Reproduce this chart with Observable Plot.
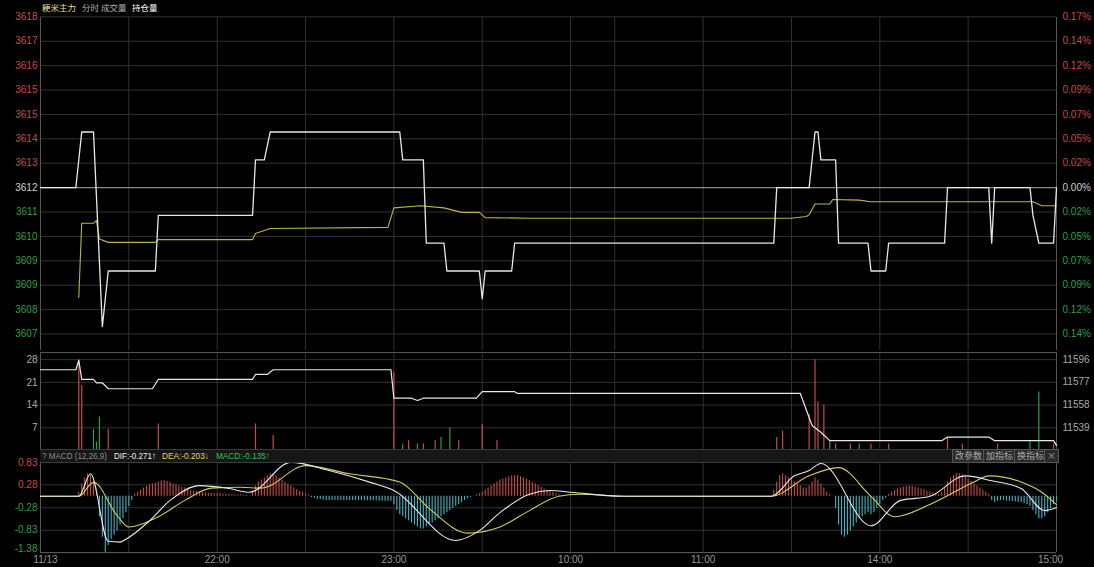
<!DOCTYPE html>
<html><head><meta charset="utf-8">
<script src="https://cdn.jsdelivr.net/npm/d3@7"></script>
<script src="https://cdn.jsdelivr.net/npm/@observablehq/plot@0.6"></script>
<style>
html,body{margin:0;padding:0;background:#000;}
#wrap{position:relative;width:1094px;height:567px;background:#000;overflow:hidden;font-family:"Liberation Sans",Arial,sans-serif;}
#wrap svg{position:absolute;left:0;}
.hdr{position:absolute;font-family:"Noto Sans CJK SC","Liberation Sans",sans-serif;white-space:nowrap;transform-origin:0 50%;}
.btn{position:absolute;top:449px;height:12px;line-height:12px;font-size:9px;color:#aaa;background:#2a2a2a;border:1px solid #555;padding:0 2px;font-family:"Noto Sans CJK SC",sans-serif;}
</style></head><body><div id="wrap"></div>
<script>
// ---------- data ----------
const sessionMinutes = 345;
const xTickMinutes = [0, 60, 120, 180, 225, 285, 345];
const xTickLabels = ["11/13", "22:00", "23:00", "10:00", "11:00", "14:00", "15:00"];
const gridMinutes = [0, 30, 60, 90, 120, 150, 180, 195, 225, 255, 285, 315, 345];

const prevSettle = 3612;
const priceStep = 0.8777;
const priceTickLabels = ["3618","3617","3616","3615","3615","3614","3613","3612","3611","3610","3609","3609","3608","3607"];
const pctTickLabels = ["0.17%","0.14%","0.12%","0.09%","0.07%","0.05%","0.02%","0.00%","0.02%","0.05%","0.07%","0.09%","0.12%","0.14%"];

const priceMin = [0,12,14,18,21,23,39,40,72,73,76,78,122,123,130,131,137,138,149,150,151,160,161,249,250,261,263,264,265,270,271,281,282,287,288,307,308,322,323,324,336,337,339,344,345];
const priceVal = [3612,3612,3614,3614,3607,3609,3609,3611,3611,3613,3613,3614,3614,3613,3613,3610,3610,3609,3609,3608,3609,3609,3610,3610,3612,3612,3614,3614,3613,3613,3610,3610,3609,3609,3610,3610,3612,3612,3610,3612,3612,3611,3610,3610,3612];

const avgMin = [13,14,18,19,20,23,39,40,72,73,78,118,120,129,137,143,149,151,166,255,260,261,263,268,269,278,282,337,340,345];
const avgVal = [3608.05,3610.72,3610.72,3610.81,3610.15,3610.03,3610.03,3610.13,3610.13,3610.35,3610.53,3610.57,3611.27,3611.35,3611.27,3611.11,3611.11,3610.92,3610.90,3610.90,3610.96,3611.02,3611.41,3611.41,3611.57,3611.55,3611.49,3611.49,3611.35,3611.35];

const volTicks = [7, 14, 21, 28];
const oiTicks = [11539, 11558, 11577, 11596];
const volMin = [13,14,18,19,20,23,40,73,79,120,123,125,128,130,134,136,139,142,150,155,250,252,261,263,264,266,268,270,275,278,282,288,308,313,325,336,339,344];
const volVal = [28,20,6.5,2.6,10.3,6.5,8.2,8.2,4.6,24,2,3,2,2,3,4,7,3,8,3,4,6,11,28,15,14,3,2,2,2,2,2,4,2,2,3,18,2];
const volUp  = [1,1,0,0,0,1,1,1,1,1,0,1,0,1,1,0,0,1,1,1,1,1,1,1,1,1,0,1,1,0,1,1,1,1,1,0,0,1];

const oiMin = [0,12,13,14,18,19,21,23,38,40,72,73,77,79,119,120,126,128,130,148,150,161,162,258,262,265,268,306,308,322,324,344,345];
const oiVal = [11587.3,11587.3,11595.1,11579.2,11579.2,11576.4,11576.4,11571.4,11571.4,11579.2,11579.2,11583.4,11583.4,11587.3,11587.3,11563.5,11563.5,11561.6,11563.5,11563.5,11569,11569,11567.5,11567.5,11540.7,11535,11528,11528,11531,11531,11528,11528,11524];

const macdTicks = [0.83, 0.28, -0.28, -0.83, -1.38];
const difMin = [0,13,17,23,27,29,37,44,54,64,71,85,98,112,120,141,149,156,166,173,180,197,248,256,261,265,282,292,302,314,323,333,341,345];
const difVal = [0,0,0.55,-1.1,-1.12,-1.05,-0.6,-0.1,0.26,0.19,0.1,0.83,0.63,0.34,0.14,-1.08,-0.84,-0.4,0.05,0.14,0.1,0,0,0.5,0.63,0.8,-0.72,-0.1,0,0.5,0.38,0.19,-0.35,-0.271];
const deaMin = [0,13,18,26,30,40,49,58,68,75,90,105,122,132,145,156,166,176,183,200,248,261,271,282,290,302,317,322,333,340,345];
const deaVal = [0,0,0.34,-0.47,-0.75,-0.5,-0.1,0.2,0.22,0.2,0.75,0.55,0.35,-0.3,-0.9,-0.75,-0.35,0,0.05,0,0,0.5,0.7,0,-0.5,-0.2,0.35,0.5,0.35,0.1,-0.203];

const histSegments = [
  {from: 13, v: [0.1,0.3,0.45,0.55,0.5,0.35,0.1]},
  {from: 20, v: [-0.5,-1.0,-1.38,-1.2,-1.05,-0.95,-0.85,-0.7,-0.55,-0.4,-0.25,-0.1]},
  {from: 32, v: [0.05,0.1,0.15,0.2,0.25,0.28,0.3,0.32,0.35,0.38,0.38,0.36,0.34,0.3,0.28,0.25,0.22,0.2,0.18,0.15,0.13,0.12,0.1,0.09,0.08,0.07,0.07,0.06,0.06,0.06,0.05,0.05,0.05,0.04,0.04,0.04,0.03,0.03,0.03]},
  {from: 72, v: [0.1,0.25,0.35,0.4,0.45,0.5,0.55,0.55,0.5,0.45,0.4,0.35,0.3,0.25,0.2,0.16,0.12,0.09,0.06,0.03]},
  {from: 92, v: [-0.03,-0.05,-0.07,-0.08,-0.09,-0.1,-0.1,-0.1,-0.1,-0.1,-0.1,-0.1,-0.1,-0.1,-0.1,-0.1,-0.1,-0.1,-0.11,-0.11,-0.11,-0.11,-0.11,-0.12,-0.12,-0.12,-0.12,-0.12]},
  {from: 120, v: [-0.2,-0.35,-0.45,-0.5,-0.55,-0.6,-0.65,-0.7,-0.75,-0.8,-0.8,-0.75,-0.7,-0.65,-0.6,-0.55,-0.5,-0.45,-0.4,-0.35,-0.3,-0.25,-0.2,-0.15,-0.1,-0.06,-0.03]},
  {from: 148, v: [0.03,0.06,0.1,0.15,0.2,0.25,0.3,0.35,0.4,0.42,0.45,0.47,0.5,0.5,0.5,0.48,0.45,0.42,0.38,0.34,0.3,0.26,0.22,0.18,0.15,0.12,0.09,0.06,0.04,0.02]},
  {from: 249, v: [0.15,0.35,0.5,0.55,0.5,0.45,0.4,0.35,0.3,0.25,0.2,0.2,0.25,0.35,0.45,0.4,0.3,0.2,0.1,0.05]},
  {from: 270, v: [-0.3,-0.7,-0.95,-1.0,-0.95,-0.85,-0.75,-0.65,-0.55,-0.5,-0.45,-0.4,-0.45,-0.4,-0.3,-0.2,-0.1,-0.05]},
  {from: 288, v: [0.05,0.1,0.14,0.18,0.2,0.22,0.24,0.25,0.24,0.22,0.2,0.18,0.16,0.13,0.1,0.08,0.06,0.05]},
  {from: 306, v: [0.1,0.2,0.35,0.45,0.5,0.55,0.55,0.52,0.48,0.42,0.36,0.3,0.25,0.2,0.15,0.1,0.05]},
  {from: 323, v: [-0.1,-0.15,-0.12,-0.1,-0.1,-0.12,-0.12,-0.13,-0.14,-0.15,-0.15,-0.18,-0.2,-0.25,-0.35,-0.45,-0.55,-0.55,-0.5,-0.4,-0.3,-0.2,-0.14]}
];

// ---------- helpers ----------
const W = 1094, ML = 40, MR = 38;
const GRID = "#323232", AXIS = "#555";
const RED = "#c84a4a", GREEN = "#2f9e44", CYAN = "#3fb4c4";
const zip = (a, b) => a.map((m, i) => ({m, v: b[i]}));
const wrap = document.getElementById("wrap");
function place(svg, top) { svg.style.top = top + "px"; wrap.appendChild(svg); }
const baseStyle = {background: "transparent", color: "#999", fontSize: "10px", fontFamily: "Liberation Sans, Arial, sans-serif", overflow: "visible"};

// ---------- top price panel ----------
const priceTicks = priceTickLabels.map((t, i) => ({v: prevSettle + (7 - i) * priceStep, label: t, pct: pctTickLabels[i], k: 7 - i}));
const tickColor = k => k > 0 ? RED : k < 0 ? GREEN : "#cfcfcf";
const topPlot = Plot.plot({
  width: W, height: 352, marginLeft: ML, marginRight: MR, marginTop: 17, marginBottom: 2,
  style: baseStyle,
  x: {domain: [0, sessionMinutes], axis: null},
  y: {domain: [prevSettle - 5.86, prevSettle + 6.12], axis: null},
  color: {type: "identity"},
  marks: [
    Plot.ruleY(priceTicks.filter(d => d.k !== 0), {y: "v", stroke: GRID}),
    Plot.ruleX(gridMinutes, {stroke: GRID}),
    Plot.ruleY([prevSettle], {stroke: "#8a8a8a", strokeWidth: 1.2}),
    Plot.ruleX([0, sessionMinutes], {stroke: AXIS}),
    Plot.text(priceTicks, {y: "v", text: "label", frameAnchor: "left", textAnchor: "end", dx: -3, fill: d => tickColor(d.k), fontSize: 10}),
    Plot.text(priceTicks, {y: "v", text: "pct", frameAnchor: "right", textAnchor: "start", dx: 6, fill: d => tickColor(d.k), fontSize: 10}),
    Plot.line(zip(avgMin, avgVal), {x: "m", y: "v", stroke: "#bdb53a", strokeWidth: 1.1}),
    Plot.line(zip(priceMin, priceVal), {x: "m", y: "v", stroke: "#e8e8e8", strokeWidth: 1.3})
  ]
});
place(topPlot, 0);

// ---------- volume / open interest panel ----------
const volData = volMin.map((m, i) => ({m, v: volVal[i], up: volUp[i]}));
const volPlot = Plot.plot({
  width: W, height: 100, marginLeft: ML, marginRight: MR, marginTop: 2, marginBottom: 0,
  style: baseStyle,
  x: {domain: [0, sessionMinutes], axis: null},
  y: {domain: [0, 30.2], axis: null},
  color: {type: "identity"},
  marks: [
    Plot.ruleY(volTicks, {stroke: GRID}),
    Plot.ruleX(gridMinutes, {stroke: GRID}),
    Plot.ruleY([30.2], {stroke: AXIS}),
    Plot.ruleX([0, sessionMinutes], {stroke: AXIS}),
    Plot.text(volTicks, {y: d => d, text: d => String(d), frameAnchor: "left", textAnchor: "end", dx: -3, fill: "#aaa", fontSize: 10}),
    Plot.ruleX(volData, {x: "m", y1: 0, y2: "v", stroke: d => d.up ? RED : GREEN, strokeWidth: 1.2})
  ]
});
place(volPlot, 350);
const oiPlot = Plot.plot({
  width: W, height: 100, marginLeft: ML, marginRight: MR, marginTop: 2, marginBottom: 0,
  style: baseStyle,
  x: {domain: [0, sessionMinutes], axis: null},
  y: {domain: [11519.75, 11601.75], axis: null},
  marks: [
    Plot.text(oiTicks, {y: d => d, text: d => String(d), frameAnchor: "right", textAnchor: "start", dx: 6, fill: "#aaa", fontSize: 10}),
    Plot.line(zip(oiMin, oiVal), {x: "m", y: "v", stroke: "#e8e8e8", strokeWidth: 1.2})
  ]
});
place(oiPlot, 350);

// ---------- MACD panel ----------
const hist = histSegments.flatMap(s => s.v.map((v, i) => ({m: s.from + i, v})));
const axisOpts = {tickSize: 0, tickPadding: 3, fill: "#999", fontSize: 10, label: null};
const macdPlot = Plot.plot({
  width: W, height: 112, marginLeft: ML, marginRight: MR, marginTop: 3, marginBottom: 15,
  style: baseStyle,
  x: {domain: [0, sessionMinutes], axis: null, label: null},
  y: {domain: [-1.374, 0.924], axis: null},
  color: {type: "identity"},
  marks: [
    Plot.ruleY(macdTicks, {stroke: GRID}),
    Plot.ruleX(gridMinutes, {stroke: GRID}),
    Plot.ruleX([0, sessionMinutes], {stroke: AXIS}),
    Plot.ruleY([-1.374], {stroke: AXIS}),
    Plot.text(macdTicks.filter(d => d > -1), {y: d => d, text: d => d.toFixed(2), frameAnchor: "left", textAnchor: "end", dx: -3, fill: d => d > 0 ? RED : GREEN, fontSize: 10}),
    Plot.text(macdTicks.filter(d => d < -1), {y: d => d, text: d => d.toFixed(2), frameAnchor: "left", textAnchor: "end", dx: -3, dy: -4, fill: GREEN, fontSize: 10}),
    Plot.ruleX(hist, {x: "m", y1: 0, y2: "v", stroke: d => d.v >= 0 ? RED : CYAN, strokeWidth: 1.1}),
    Plot.line(zip(deaMin, deaVal), {x: "m", y: "v", stroke: "#d4cc55", strokeWidth: 1.1, curve: "monotone-x"}),
    Plot.line(zip(difMin, difVal), {x: "m", y: "v", stroke: "#e8e8e8", strokeWidth: 1.1, curve: "monotone-x"}),
    Plot.axisX({...axisOpts, ticks: xTickMinutes.slice(0, 1), tickFormat: () => xTickLabels[0], dx: 5}),
    Plot.axisX({...axisOpts, ticks: xTickMinutes.slice(1, 6), tickFormat: m => xTickLabels[xTickMinutes.indexOf(m)]}),
    Plot.axisX({...axisOpts, ticks: xTickMinutes.slice(6), tickFormat: () => xTickLabels[6], dx: -6})
  ]
});
place(macdPlot, 455);

// ---------- HTML headers ----------
function hdr(text, left, top, color, size, font, targetWidth) {
  const d = document.createElement("div"); d.className = "hdr"; d.textContent = text;
  Object.assign(d.style, {left: left + "px", top: top + "px", color, fontSize: size + "px", lineHeight: "12px"});
  if (font) d.style.fontFamily = font;
  wrap.appendChild(d);
  if (targetWidth) {
    const w = d.getBoundingClientRect().width;
    if (w > targetWidth) d.style.transform = `scaleX(${targetWidth / w})`;
  }
  return d;
}
hdr("粳米主力", 42, 1, "#e6e09a", 8.5);
hdr("分时", 82, 1, "#b0b0b0", 8.5);
hdr("成交量", 101, 1, "#b0b0b0", 8.5);
hdr("持仓量", 132, 1, "#ffffff", 8.5);

const bar = document.createElement("div");
Object.assign(bar.style, {position: "absolute", left: "40px", top: "449px", width: "1016px", height: "12px", background: "#161616", borderTop: "1px solid #3a3a3a", borderBottom: "1px solid #3a3a3a"});
wrap.appendChild(bar);
const SANS = "'Liberation Sans', sans-serif";
hdr("? MACD (12,26,9)", 42, 450, "#8a8a8a", 9.5, SANS, 65);
hdr("DIF:-0.271↑", 114, 450, "#f0f0f0", 9.5, SANS, 42);
hdr("DEA:-0.203↓", 162, 450, "#e0d860", 9.5, SANS, 47);
hdr("MACD:-0.135↑", 216, 450, "#3cbf55", 9.5, SANS, 54);
[["改参数", 952], ["加指标", 983], ["换指标", 1014], ["×", 1044]].forEach(([t, x]) => {
  const b = document.createElement("div"); b.className = "btn"; b.textContent = t; b.style.left = x + "px"; wrap.appendChild(b);
});
</script></body></html>
